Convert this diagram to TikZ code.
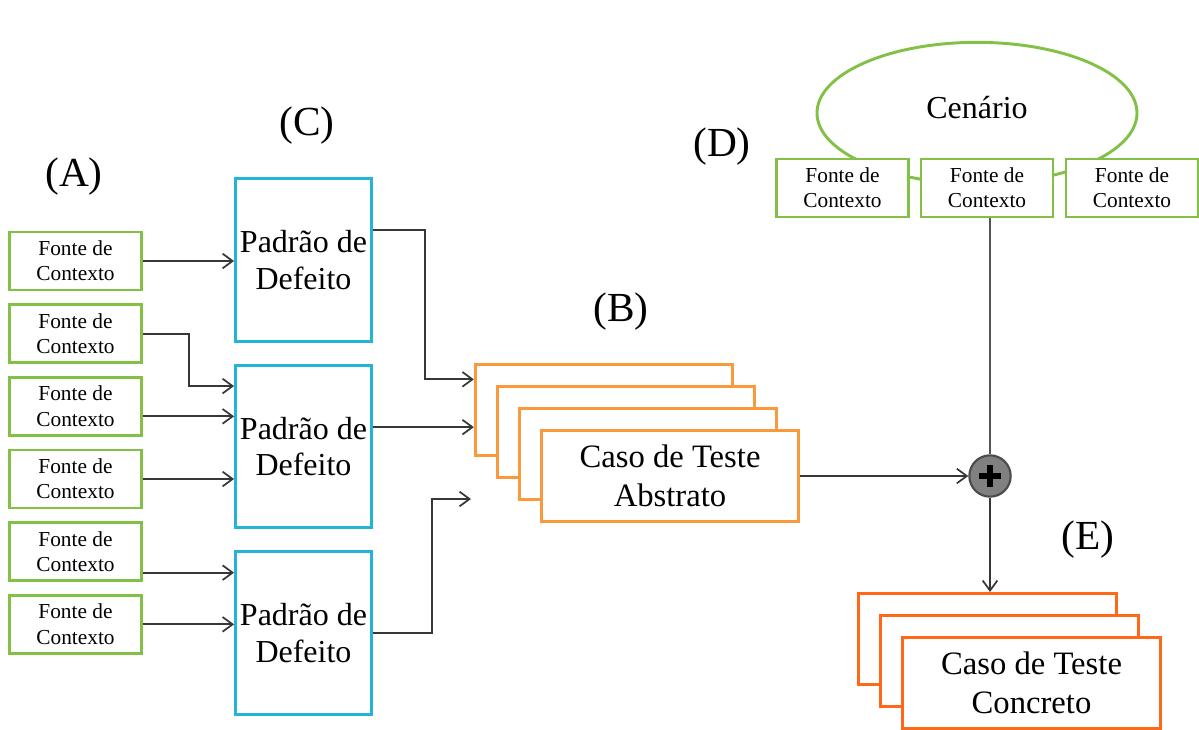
\documentclass[tikz,border=0pt]{standalone}
\usepackage{fontspec}
\setmainfont{Liberation Serif}
\usetikzlibrary{arrows.meta,positioning,shapes.geometric}

\definecolor{fontegreen}{RGB}{130,192,70}
\definecolor{padraoblue}{RGB}{35,180,214}
\definecolor{casoorange}{RGB}{250,152,60}
\definecolor{concorange}{RGB}{255,104,24}
\definecolor{wire}{RGB}{55,55,55}

\begin{document}
\begin{tikzpicture}[x=0.75pt,y=-0.75pt,>={Straight Barb[length=7.5pt,width=11pt]},
        fonte/.style={draw=fontegreen,line width=2.2pt,fill=white,inner sep=0pt,
          minimum width=99pt,minimum height=43.5pt,align=center,
          font=\fontsize{16}{19}\selectfont},
        padrao/.style={draw=padraoblue,line width=2.2pt,minimum width=99pt,
          minimum height=122pt,align=center,font=\fontsize{24}{27.5}\selectfont},
        caso/.style={draw=casoorange,line width=2.2pt,fill=white,minimum width=193pt,
          minimum height=68.3pt,align=center,font=\fontsize{24.5}{29}\selectfont},
        concreto/.style={caso,draw=concorange},
        tag/.style={font=\fontsize{31}{36}\selectfont},
        flow/.style={->,draw=wire,line width=1.3pt},
        plain/.style={draw=wire!85,line width=1.3pt}]

  \useasboundingbox (0,0) rectangle (1199,729);

  % (A) fontes de contexto
  \node[fonte] (g1) at (75.5,261) {Fonte de\\Contexto};
  \node[fonte] (g2) [below=8.8pt of g1] {Fonte de\\Contexto};
  \node[fonte] (g3) [below=8.8pt of g2] {Fonte de\\Contexto};
  \node[fonte] (g4) [below=8.8pt of g3] {Fonte de\\Contexto};
  \node[fonte] (g5) [below=8.8pt of g4] {Fonte de\\Contexto};
  \node[fonte] (g6) [below=8.8pt of g5] {Fonte de\\Contexto};

  % (C) padroes de defeito
  \node[padrao] (c1) at (303.5,260) {Padrão de\\Defeito};
  \node[padrao] (c2) [below=15.75pt of c1] {Padrão de\\Defeito};
  \node[padrao] (c3) [below=15.75pt of c2] {Padrão de\\Defeito};

  % (B) casos de teste abstratos
  \foreach \i in {1,2,3}
    \node[caso] (ab\i) at ({582+22*\i},{388+22*\i}) {};
  \node[caso] (abs) at (670,476) {Caso de Teste\\Abstrato};
  \coordinate (free) at (471,499);

  % (D) cenario
  \node[ellipse,draw=fontegreen,line width=2.2pt,minimum width=240pt,minimum height=106pt,
        font=\fontsize{24}{28}\selectfont] (scen) at (977,113) {\raisebox{8pt}{Cenário}};
  \node[fonte] (f1) at (842.5,188) {Fonte de\\Contexto};
  \node[fonte] (f2) at (987,188) {Fonte de\\Contexto};
  \node[fonte] (f3) at (1132,188) {Fonte de\\Contexto};

  \node[circle,draw=wire!90,fill=black!50,line width=1.6pt,minimum size=31pt] (plus) at (990,476) {};
  \draw[line width=5pt] (plus.center) ++(-11,0) -- ++(22,0)
                        (plus.center) ++(0,-11) -- ++(0,22);

  % (E) casos de teste concretos
  \foreach \i in {1,2}
    \node[concreto] (cc\i) at ({965.5+22*\i},{617+22*\i}) {};
  \node[concreto] (conc) at (1031.5,683) {Caso de Teste\\Concreto};

  % labels
  \node[tag] (lA) at (74,177) {(A)};
  \node[tag] (lB) at (621,312) {(B)};
  \node[tag] (lC) at (307,126) {(C)};
  \node[tag] (lD) at (722,147) {(D)};
  \node[tag] (lE) at (1088,540) {(E)};

  % connectors
  \draw[flow] (g1.east) -- (g1.east -| c1.west);
  \draw[flow] (g2.east) -- ++(46,0) |- ([yshift=45.4pt]c2.west);
  \draw[flow] ([yshift=-7.5pt]g3.east) -- ([yshift=-7.5pt]g3.east -| c2.west);
  \draw[flow] (g4.east) -- (g4.east -| c2.west);
  \draw[flow] ([yshift=-15.75pt]g5.east) -- ([yshift=-15.75pt]g5.east -| c3.west);
  \draw[flow] (g6.east) -- (g6.east -| c3.west);

  \draw[flow] ([yshift=22.5pt]c1.east) -- ++(52,0) |- ([yshift=23pt]ab1.west);
  \draw[flow] ([yshift=14.6pt]c2.east) -- ([yshift=14.6pt]c2.east -| ab1.west);
  \draw[flow] (c3.east) -- ++(59,0) |- (free);

  \draw[flow] (abs.east) -- (plus.west);
  \draw[plain] (plus |- f2.south) -- (plus.north);
  \draw[flow] (plus.south) -- (plus |- cc1.north);

\end{tikzpicture}
\end{document}
